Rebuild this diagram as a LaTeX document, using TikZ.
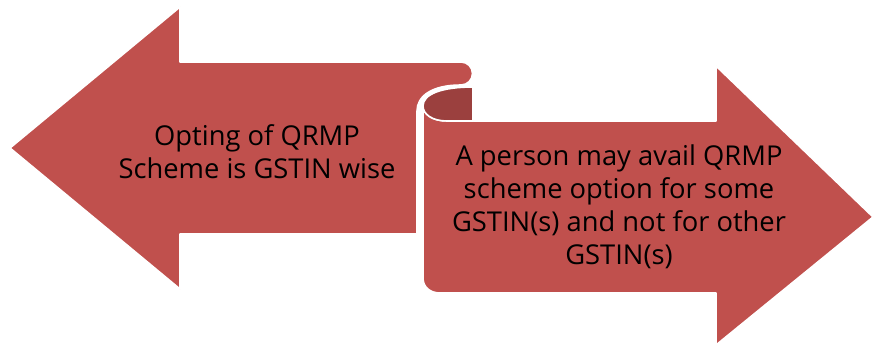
\documentclass[tikz,border=0pt]{standalone}
\usepackage{fontspec}
\setmainfont{Open Sans}
\definecolor{ribbon}{HTML}{C0504D}
\definecolor{ribbondark}{HTML}{9B403E}
\begin{document}
\begin{tikzpicture}[x=0.75pt,y=-0.75pt,
  shapebox/.style={fill=ribbon,draw=white,line width=1.2pt,line join=round},
  backbox/.style={fill=ribbondark,draw=white,line width=1.2pt,line join=round},
  txt/.style={align=center,text=black,font=\fontsize{20.5pt}{24.8pt}\selectfont,inner sep=0pt}]
\useasboundingbox (0,0) rectangle (874,346);
% right ribbon body
\path[shapebox] (423,106) .. controls (423,114) and (432,121) .. (447,121)
  -- (716,121) -- (716,66) -- (873,217) -- (716,345) -- (716,293)
  -- (440,293) .. controls (430,293) and (423,287) .. (423,278) -- cycle;
% back of the scroll
\path[backbox] (473,87) -- (473,121) -- (447,121)
  .. controls (432,121) and (423,114) .. (423,106)
  .. controls (423,94) and (442,87) .. (473,87) -- cycle;
% left ribbon
\path[shapebox] (10,148) -- (180,7) -- (180,62) -- (461,62)
  arc[start angle=-90,end angle=90,radius=11.5]
  .. controls (432,85) and (417,96) .. (417,111)
  -- (417,234) -- (180,234) -- (180,289) -- cycle;
\node[txt] (lefttext) at (257,152) {Opting of QRMP\\Scheme is GSTIN wise};
\node[txt] (righttext) at (619,207) {A person may avail QRMP\\scheme option for some\\GSTIN(s) and not for other\\GSTIN(s)};
\end{tikzpicture}
\end{document}
